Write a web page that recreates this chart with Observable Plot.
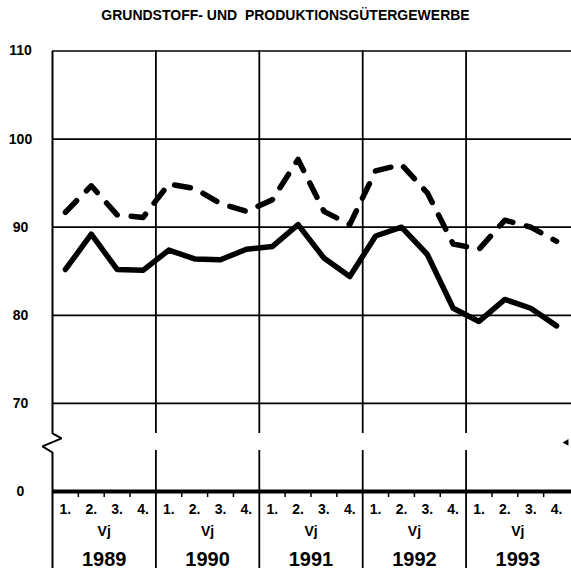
<!DOCTYPE html>
<html><head><meta charset="utf-8">
<script src="https://cdn.jsdelivr.net/npm/d3@7"></script>
<script src="https://cdn.jsdelivr.net/npm/@observablehq/plot@0.6"></script>
<style>
body{margin:0;background:#fff;font-family:"Liberation Sans",Arial,sans-serif;}
#title{height:30px;line-height:30px;text-align:center;font-weight:bold;font-size:14px;color:#000;white-space:pre;}
#chart svg{display:block;}
</style></head><body>
<div id="title">GRUNDSTOFF- UND  PRODUKTIONSGÜTERGEWERBE</div>
<div id="chart"></div>
<script>
const years = ["1989", "1990", "1991", "1992", "1993"];
const quarters = ["1.", "2.", "3.", "4."];
const periodLabel = "Vj";
const solidSeries = [85.2, 89.2, 85.2, 85.1, 87.4, 86.4, 86.3, 87.5, 87.8, 90.3, 86.5, 84.4, 89.0, 90.0, 86.9, 80.8, 79.3, 81.8, 80.8, 78.8];
const dashedSeries = [91.7, 94.7, 91.4, 91.1, 94.9, 94.4, 92.7, 91.8, 93.1, 97.7, 91.8, 90.3, 96.4, 97.1, 93.9, 88.1, 87.5, 90.8, 90.0, 88.4];
const yTickValues = [0, 70, 80, 90, 100, 110];
const gridValues = [70, 80, 90, 100, 110];
const breakAt = 70;
const breakBand = [32.6, 46.1];
const breakZigzag = [[0, 110], [0, 46.1], [0.35, 42.2], [-0.39, 35.8], [0, 31.0], [0, 0]];
const rightBreakMark = [[20, 39]];

const nQ = years.length * quarters.length;
const qIdx = d3.range(nQ);
const yearBounds = d3.range(1, years.length).map(i => i * quarters.length);
const quarterTicks = d3.range(1, nQ).filter(i => i % quarters.length !== 0);
const qLabels = qIdx.map(i => ({i, label: quarters[i % quarters.length]}));
const solidData = solidSeries.map((v, i) => ({i, v}));
const dashedData = dashedSeries.map((v, i) => ({i, v}));

const H = 538, bottomY = 461, below = H - bottomY;
// compress the axis below the break (0..70 drawn in ~10 units of space)
const squeeze = 10 / 70;
const brk = v => v >= breakAt ? v : breakAt - (breakAt - v) * squeeze;

const chart = Plot.plot({
  width: 571,
  height: H,
  marginTop: 20,
  marginLeft: 52,
  marginRight: 0,
  marginBottom: below,
  style: {fontFamily: "'Liberation Sans', Arial, sans-serif", color: "#000", background: "#fff"},
  x: {domain: [0, nQ], range: [52, 569], axis: null},
  y: {transform: brk, domain: [brk(0), 110], range: [bottomY, 20.5], axis: null},
  marks: [
    Plot.ruleY(gridValues, {stroke: "#000", strokeWidth: 1.7}),
    Plot.ruleX(yearBounds, {x: d => d, y1: 110, y2: breakBand[1], stroke: "#000", strokeWidth: 1.8}),
    Plot.ruleX(yearBounds, {x: d => d, y1: breakBand[0], y2: 0, insetBottom: -below, stroke: "#000", strokeWidth: 1.8}),
    Plot.line(breakZigzag, {x: d => d[0], y: d => d[1], stroke: "#000", strokeWidth: 2, strokeLinejoin: "miter", strokeLinecap: "butt"}),
    Plot.ruleX([0], {x: d => d, y1: 0, y2: 0, insetBottom: -below, stroke: "#000", strokeWidth: 2}),
    Plot.ruleX(quarterTicks, {x: d => d, y1: 0, y2: 0, insetBottom: -6, stroke: "#000", strokeWidth: 1.5}),
    Plot.ruleY([0], {stroke: "#000", strokeWidth: 4}),
    Plot.dot(rightBreakMark, {x: d => d[0], y: d => d[1], symbol: "triangle", r: 2.5, fill: "#000", stroke: null, rotate: -90, dx: -3}),
    Plot.line(dashedData, {x: d => d.i + 0.5, y: "v", stroke: "#000", strokeWidth: 5.5, strokeDasharray: "16,14"}),
    Plot.line(solidData, {x: d => d.i + 0.5, y: "v", stroke: "#000", strokeWidth: 5.5}),
    Plot.text(yTickValues, {y: d => d, text: d => String(d), frameAnchor: "left", dx: -32, textAnchor: "middle", fontSize: 14, fontWeight: "bold", fill: "#000"}),
    Plot.text(qLabels, {x: d => d.i + 0.5, text: "label", frameAnchor: "bottom", dy: 22, lineAnchor: "bottom", fontSize: 14, fontWeight: "bold", fill: "#000"}),
    Plot.text(years, {x: (d, i) => i * quarters.length + quarters.length / 2, text: () => periodLabel, frameAnchor: "bottom", dy: 44, lineAnchor: "bottom", fontSize: 14, fontWeight: "bold", fill: "#000"}),
    Plot.text(years, {x: (d, i) => i * quarters.length + quarters.length / 2, text: d => d, frameAnchor: "bottom", dy: 74, lineAnchor: "bottom", fontSize: 20, fontWeight: "bold", fill: "#000"})
  ]
});
document.getElementById("chart").appendChild(chart);
</script>
</body></html>
